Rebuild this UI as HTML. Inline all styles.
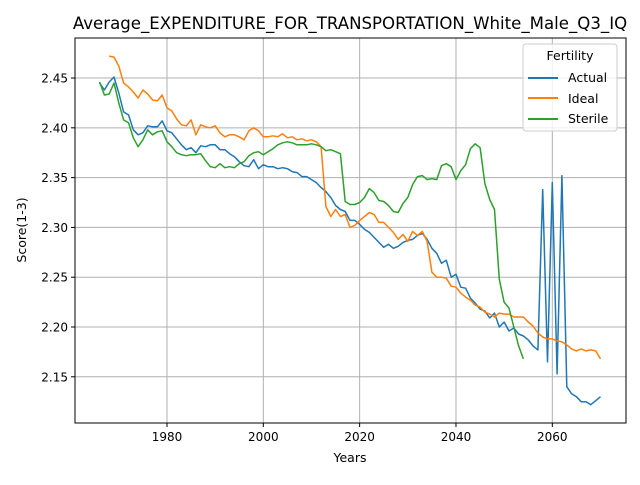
<!DOCTYPE html>
<html><head><meta charset="utf-8"><style>
body{margin:0;background:#fff}
svg{font-family:"DejaVu Sans","Liberation Sans",sans-serif}
</style></head><body>
<svg id="chart" width="640" height="480" xmlns="http://www.w3.org/2000/svg">
<rect width="640" height="480" fill="#fff"/>
<g id="grid"></g>
<g id="series"></g>
<rect x="75" y="38" width="551" height="385" fill="none" stroke="#000" stroke-width="1"/>
<g id="ticks"></g>
<text x="350" y="29" font-size="16.6" text-anchor="middle">Average_EXPENDITURE_FOR_TRANSPORTATION_White_Male_Q3_IQ</text>
<text x="350" y="462" font-size="12.5" text-anchor="middle">Years</text>
<text x="26" y="230" font-size="12.5" text-anchor="middle" transform="rotate(-90 26 230)">Score(1-3)</text>
<g>
<rect x="523" y="44" width="94" height="87" rx="3" fill="#fff" fill-opacity="0.8" stroke="#ccc"/>
<text x="570" y="60" font-size="12.5" text-anchor="middle">Fertility</text>
<g><line x1="528" y1="78" x2="558" y2="78" stroke="#1f77b4" stroke-width="2"/><text x="568" y="82" font-size="12.5">Actual</text></g>
<g><line x1="528" y1="98" x2="558" y2="98" stroke="#ff7f0e" stroke-width="2"/><text x="568" y="103" font-size="12.5">Ideal</text></g>
<g><line x1="528" y1="119" x2="558" y2="119" stroke="#2ca02c" stroke-width="2"/><text x="568" y="123" font-size="12.5">Sterile</text></g>
</g>
</svg>
<script>
const xTicks=[1980,2000,2020,2040,2060];
const yTicks=[2.15,2.20,2.25,2.30,2.35,2.40,2.45];
const actualStart=1966;
const actual=[2.445,2.438,2.446,2.451,2.435,2.416,2.413,2.398,2.393,2.395,2.402,2.401,2.401,2.407,2.397,2.395,2.389,2.383,2.378,2.380,2.375,2.382,2.381,2.383,2.383,2.378,2.378,2.374,2.371,2.366,2.362,2.361,2.368,2.359,2.363,2.361,2.361,2.359,2.360,2.359,2.356,2.355,2.351,2.351,2.348,2.345,2.340,2.336,2.330,2.322,2.318,2.316,2.307,2.307,2.303,2.298,2.295,2.290,2.285,2.280,2.283,2.279,2.281,2.285,2.287,2.288,2.292,2.294,2.288,2.279,2.274,2.264,2.267,2.250,2.253,2.240,2.239,2.229,2.224,2.218,2.216,2.209,2.214,2.200,2.205,2.196,2.199,2.193,2.191,2.187,2.181,2.177,2.338,2.165,2.345,2.153,2.352,2.140,2.133,2.130,2.125,2.125,2.122,2.126,2.130];
const idealStart=1968;
const ideal=[2.472,2.471,2.462,2.445,2.441,2.436,2.430,2.438,2.434,2.428,2.427,2.433,2.420,2.417,2.409,2.403,2.402,2.408,2.393,2.403,2.401,2.400,2.402,2.395,2.391,2.393,2.393,2.391,2.388,2.397,2.400,2.397,2.391,2.391,2.392,2.391,2.394,2.390,2.391,2.388,2.389,2.387,2.388,2.386,2.381,2.321,2.311,2.318,2.311,2.313,2.300,2.302,2.307,2.311,2.315,2.313,2.305,2.305,2.300,2.295,2.288,2.293,2.286,2.296,2.292,2.296,2.286,2.255,2.250,2.250,2.249,2.241,2.240,2.234,2.230,2.227,2.222,2.220,2.215,2.213,2.210,2.214,2.213,2.213,2.210,2.210,2.210,2.205,2.201,2.194,2.190,2.188,2.188,2.186,2.185,2.182,2.178,2.176,2.178,2.176,2.177,2.176,2.168];
const sterileStart=1966;
const sterile=[2.446,2.433,2.434,2.445,2.425,2.408,2.405,2.390,2.381,2.388,2.398,2.393,2.396,2.397,2.386,2.381,2.375,2.373,2.372,2.373,2.373,2.374,2.367,2.361,2.360,2.364,2.360,2.361,2.360,2.364,2.366,2.372,2.375,2.376,2.373,2.376,2.379,2.383,2.385,2.386,2.385,2.383,2.383,2.383,2.384,2.383,2.381,2.377,2.378,2.376,2.374,2.326,2.323,2.323,2.325,2.330,2.339,2.335,2.327,2.326,2.322,2.316,2.315,2.324,2.330,2.343,2.351,2.352,2.348,2.349,2.348,2.362,2.364,2.361,2.348,2.357,2.363,2.379,2.384,2.380,2.344,2.328,2.318,2.248,2.225,2.219,2.200,2.181,2.168];

const X0=75,X1=626,Y0=38,Y1=423;
const xMin=1960.9,xMax=2075.3,yMin=2.1036,yMax=2.4902;
const xs=v=>X0+(v-xMin)/(xMax-xMin)*(X1-X0);
const ys=v=>Y1-(v-yMin)/(yMax-yMin)*(Y1-Y0);
const NS='http://www.w3.org/2000/svg';
const grid=document.getElementById('grid'),ticks=document.getElementById('ticks'),ser=document.getElementById('series');
function mk(tag,attrs,parent){const e=document.createElementNS(NS,tag);for(const k in attrs)e.setAttribute(k,attrs[k]);parent.appendChild(e);return e;}
xTicks.forEach(t=>{const x=xs(t);
 const g=mk('line',{x1:x,x2:x,y1:Y0,y2:Y1,stroke:'#b0b0b0','stroke-width':1},grid);
 
 
 mk('line',{x1:x,x2:x,y1:Y1,y2:Y1+4,stroke:'#000'},ticks);
 const tx=mk('text',{x:x,y:Y1+18,'font-size':12,'text-anchor':'middle'},ticks);tx.textContent=t;
 
 
});
yTicks.forEach(t=>{const y=ys(t);
 const g=mk('line',{x1:X0,x2:X1,y1:y,y2:y,stroke:'#b0b0b0','stroke-width':1},grid);
 
 
 mk('line',{x1:X0-4,x2:X0,y1:y,y2:y,stroke:'#000'},ticks);
 const tx=mk('text',{x:X0-7,y:y+4.5,'font-size':12,'text-anchor':'end'},ticks);tx.textContent=t.toFixed(2);
 
 
});
function line(data,start,color,name){
 const pts=data.map((v,i)=>xs(start+i).toFixed(1)+','+ys(v).toFixed(1)).join(' ');
 const p=mk('polyline',{points:pts,fill:'none',stroke:color,'stroke-width':1.5,'stroke-linejoin':'round'},ser);
 
 
}
line(actual,actualStart,'#1f77b4','actual-line');
line(ideal,idealStart,'#ff7f0e','ideal-line');
line(sterile,sterileStart,'#2ca02c','sterile-line');
</script>
</body></html>
